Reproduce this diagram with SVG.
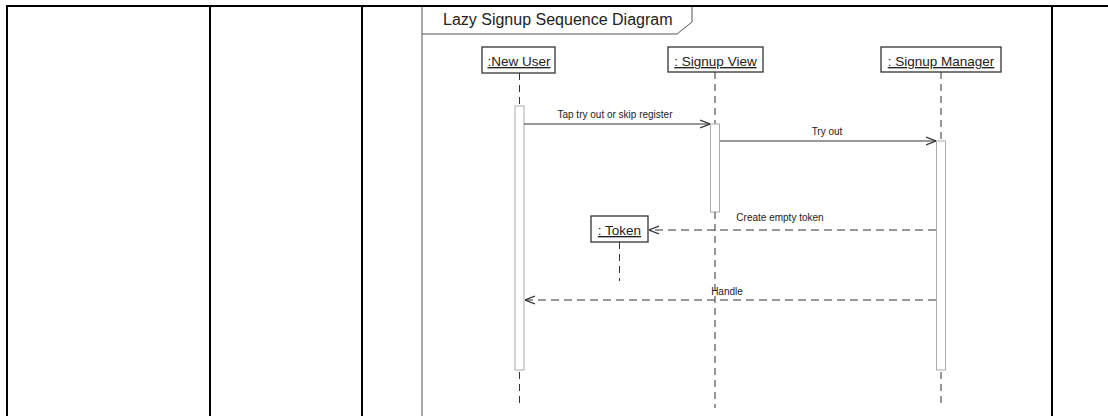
<svg xmlns="http://www.w3.org/2000/svg" width="1108" height="416" viewBox="0 0 1108 416">
  <style>
    .grid { stroke: #000; stroke-width: 2; fill: none; }
    .frame { stroke: #555; stroke-width: 1; fill: none; }
    .title { font-family: "Liberation Sans", Arial, sans-serif; font-size: 16px; fill: #222; }
    .head rect { fill: #fff; stroke: #333; stroke-width: 1.3; }
    .head text { font-family: "Liberation Sans", Arial, sans-serif; font-size: 13.5px; fill: #222; text-anchor: middle; text-decoration: underline; }
    .life { stroke: #333; stroke-width: 1; stroke-dasharray: 7 5; fill: none; }
    .head rect.act { fill: #fff; stroke: #aaa; stroke-width: 1; }
    .msg { stroke: #333; stroke-width: 1; fill: none; }
    .reply { stroke: #333; stroke-width: 1.2; stroke-dasharray: 8 5; fill: none; }
    .label { font-family: "Liberation Sans", Arial, sans-serif; font-size: 10px; fill: #222; text-anchor: middle; }
  </style>
  <defs>
    <marker id="open" viewBox="0 0 10 10" refX="10" refY="5" markerWidth="10" markerHeight="10" markerUnits="userSpaceOnUse" orient="auto">
      <path d="M0,1 L10,5 L0,9" fill="none" stroke="#333" stroke-width="1.2"/>
    </marker>
  </defs>

  <rect width="1108" height="416" fill="#fff"/>

  <!-- table grid -->
  <g id="table">
    <line class="grid" x1="6" y1="6" x2="1108" y2="6"/>
    <line class="grid" x1="7" y1="5" x2="7" y2="416"/>
    <line class="grid" x1="210" y1="5" x2="210" y2="416"/>
    <line class="grid" x1="362" y1="5" x2="362" y2="416"/>
    <line class="grid" x1="1052" y1="5" x2="1052" y2="416" stroke-width="1.5"/>
  </g>

  <!-- sequence frame and title tab -->
  <g id="frame">
    <line class="frame" x1="422" y1="7" x2="422" y2="416"/>
    <path class="frame" d="M422,34 H677 L692,22 V7"/>
    <text class="title" x="443" y="25">Lazy Signup Sequence Diagram</text>
  </g>

  <!-- lifelines -->
  <g id="new-user" class="head">
    <rect x="482" y="47" width="73" height="26"/>
    <text x="519" y="66">:New User</text>
    <line class="life" x1="519.5" y1="73" x2="519.5" y2="106"/>
    <rect class="act" x="515" y="106" width="9" height="264"/>
    <line class="life" x1="519.5" y1="372" x2="519.5" y2="408"/>
  </g>

  <g id="signup-view" class="head">
    <rect x="668" y="47" width="95" height="25"/>
    <text x="715.5" y="66">: Signup View</text>
    <line class="life" x1="715" y1="72" x2="715" y2="124"/>
    <rect class="act" x="710.5" y="124" width="9" height="88"/>
    <line class="life" x1="715" y1="212" x2="715" y2="408"/>
  </g>

  <g id="signup-manager" class="head">
    <rect x="881" y="47" width="120" height="25"/>
    <text x="941" y="66">: Signup Manager</text>
    <line class="life" x1="941" y1="72" x2="941" y2="141"/>
    <rect class="act" x="936.5" y="141" width="9" height="229"/>
    <line class="life" x1="941" y1="372" x2="941" y2="408"/>
  </g>

  <g id="token" class="head">
    <rect x="591" y="216" width="57" height="26"/>
    <text x="619.5" y="235">: Token</text>
    <line class="life" x1="619.5" y1="242" x2="619.5" y2="281"/>
  </g>

  <!-- messages -->
  <g id="connectors">
    <line class="msg" x1="524" y1="124" x2="710" y2="124" marker-end="url(#open)"/>
    <text class="label" x="615" y="118">Tap try out or skip register</text>

    <line class="msg" x1="720" y1="141" x2="936" y2="141" marker-end="url(#open)"/>
    <text class="label" x="827" y="135">Try out</text>

    <line class="reply" x1="936" y1="230" x2="649" y2="230" marker-end="url(#open)"/>
    <text class="label" x="780" y="221">Create empty token</text>

    <line class="reply" x1="936" y1="300" x2="525" y2="300" marker-end="url(#open)"/>
    <text class="label" x="727" y="295">Handle</text>
  </g>
</svg>
